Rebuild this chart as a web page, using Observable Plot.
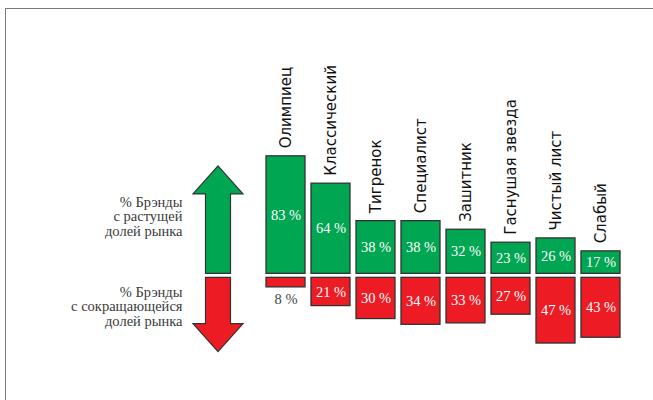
<!DOCTYPE html>
<html>
<head>
<meta charset="utf-8">
<script src="https://cdn.jsdelivr.net/npm/d3@7"></script>
<script src="https://cdn.jsdelivr.net/npm/@observablehq/plot@0.6"></script>
<style>
  html, body { margin: 0; padding: 0; background: #fff; }
  #wrap { position: relative; width: 653px; height: 400px; overflow: hidden; }
  #frame { position: absolute; left: 5px; top: 8px; right: -2px; bottom: -2px;
           border-top: 1.5px solid #7a7a7a; border-left: 1.5px solid #7a7a7a; }
  #chart { position: absolute; left: 0; top: 0; }
</style>
</head>
<body>
<div id="wrap"><div id="frame"></div><div id="chart"></div></div>
<script>
const categories = ["Олимпиец", "Классический", "Тигренок", "Специалист", "Зашитник", "Гаснушая звезда", "Чистый лист", "Слабый"];
const growing = [83, 64, 38, 38, 32, 23, 26, 17];
const shrinking = [8, 21, 30, 34, 33, 27, 47, 43];
const legendLabels = ["% Брэнды\nс растущей\nдолей рынка", "% Брэнды\nс сокращающейся\nдолей рынка"];
const arrowExtent = [76, -53];

const GREEN = "#00a651", RED = "#ed1c24", EDGE = "#333333";
const SERIF = "'Liberation Serif', serif";
const SANS = "'DejaVu Sans', sans-serif";
const rows = categories.map((c, i) => ({cat: c, up: growing[i], down: shrinking[i]}));

const k = 1.44, y0px = 275.35;
const plot = Plot.plot({
  width: 653,
  height: 400,
  marginLeft: 264,
  marginRight: 30,
  marginTop: 0,
  marginBottom: 0,
  style: {background: "transparent", overflow: "visible"},
  x: {domain: categories, paddingInner: 0.13, paddingOuter: 0, axis: null},
  y: {domain: [-60, 90], range: [y0px + 60 * k, y0px - 90 * k], axis: null},
  marks: [
    Plot.barY(rows, {x: "cat", y1: 0, y2: "up", fill: GREEN, stroke: EDGE, strokeWidth: 1.3, insetBottom: 2}),
    Plot.barY(rows, {x: "cat", y1: 0, y2: d => -d.down, fill: RED, stroke: EDGE, strokeWidth: 1.3, insetTop: 2}),
    Plot.text(rows, {x: "cat", y: d => d.up / 2, dy: -1, text: d => d.up + " %", fill: "white",
      fontFamily: SERIF, fontSize: 14.5}),
    Plot.text(rows.filter(d => d.down >= 12), {x: "cat", y: d => -d.down / 2, dy: 1, text: d => d.down + " %", fill: "white",
      fontFamily: SERIF, fontSize: 14.5}),
    Plot.text(rows.filter(d => d.down < 12), {x: "cat", y: d => -d.down, dy: 12, text: d => d.down + " %", fill: "#444",
      fontFamily: SERIF, fontSize: 14.5}),
    Plot.text(rows, {x: "cat", y: "up", dy: -8, text: "cat", rotate: -90, textAnchor: "start",
      fill: "#111", fontFamily: SANS, fontSize: 15}),
    Plot.text([legendLabels[0]], {frameAnchor: "left", y: 0, dx: -82, dy: -59, text: d => d, textAnchor: "end",
      lineHeight: 1.0, fill: "#3a3a3a", fontFamily: SERIF, fontSize: 14.5}),
    Plot.text([legendLabels[1]], {frameAnchor: "left", y: 0, dx: -82, dy: 31, text: d => d, textAnchor: "end",
      lineHeight: 1.0, fill: "#3a3a3a", fontFamily: SERIF, fontSize: 14.5})
  ]
});
document.getElementById("chart").appendChild(plot);

const svgNode = plot.tagName.toLowerCase() === "svg" ? plot : plot.querySelector("svg");
const svg = d3.select(svgNode);
// enforce font families inline
svg.selectAll("text").each(function() {
  const t = this.textContent;
  const isCat = categories.includes(t);
  this.style.fontFamily = isCat ? SANS : SERIF;
  if (!isCat) this.querySelectorAll("tspan").forEach(s => s.style.fontFamily = SERIF);
});

// arrows positioned on the y scale
const ys = plot.scale("y");
const base = ys.apply(0);
const cx = 264 - 46, headHalf = 25, shaftHalf = 12.5, headLen = 28;
const upTip = ys.apply(arrowExtent[0]);
const downTip = ys.apply(arrowExtent[1]);
const upPts = [[cx, upTip], [cx + headHalf, upTip + headLen], [cx + shaftHalf, upTip + headLen], [cx + shaftHalf, base - 2],
  [cx - shaftHalf, base - 2], [cx - shaftHalf, upTip + headLen], [cx - headHalf, upTip + headLen]];
const downPts = [[cx, downTip], [cx + headHalf, downTip - headLen], [cx + shaftHalf, downTip - headLen], [cx + shaftHalf, base + 2],
  [cx - shaftHalf, base + 2], [cx - shaftHalf, downTip - headLen], [cx - headHalf, downTip - headLen]];
const g = svg.insert("g", ":first-child");
g.append("polygon").attr("points", upPts.map(p => p.join(",")).join(" "))
  .attr("fill", GREEN).attr("stroke", EDGE).attr("stroke-width", 1.2);
g.append("polygon").attr("points", downPts.map(p => p.join(",")).join(" "))
  .attr("fill", RED).attr("stroke", EDGE).attr("stroke-width", 1.2);
</script>
</body>
</html>
